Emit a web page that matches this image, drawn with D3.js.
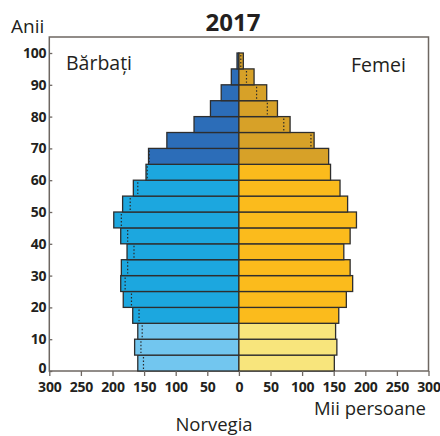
<!DOCTYPE html>
<html lang="ro">
<head>
<meta charset="UTF-8">
<title>Norvegia 2017</title>
<script src="https://cdn.jsdelivr.net/npm/d3@7"></script>
<style>
    body { margin: 0; background: #fff; }
    svg text { font-family: 'Open Sans', sans-serif; fill: #231f20; }
</style>
</head>
<body>
<script>
    // age groups (start of each 5-year band), values in thousands
    const ageStart = [0, 5, 10, 15, 20, 25, 30, 35, 40, 45, 50, 55, 60, 65, 70, 75, 80, 85, 90, 95];
    const male   = [160, 165, 160, 168, 183, 187, 186, 177, 187, 198, 184, 167, 147, 143, 114, 71, 45, 28, 12, 3];
    const female = [151, 155, 153, 158, 170, 180, 176, 166, 176, 186, 172, 160, 145, 142, 119, 81, 61, 44, 24, 7];
    const xTicks = [0, 50, 100, 150, 200, 250, 300];
    const yTicks = [0, 10, 20, 30, 40, 50, 60, 70, 80, 90, 100];

    const W = 440, H = 436;
    const plotL = 49.3, plotR = 428.5, plotT = 37, plotB = 371;
    const center = (plotL + plotR) / 2;

    const svg = d3.select("body").append("svg").attr("width", W).attr("height", H);

    const xm = d3.scaleLinear().domain([0, 300]).range([center, plotL]);
    const xf = d3.scaleLinear().domain([0, 300]).range([center, plotR]);
    const y = d3.scaleLinear().domain([0, 100]).range([plotB, 53]);

    const colM = a => a < 15 ? "#72c6ef" : a < 65 ? "#1ca7df" : "#2c6db8";
    const colF = a => a < 15 ? "#f8e57c" : a < 65 ? "#fbbb1c" : "#d7a128";

    const data = ageStart.map((a, i) => ({a, m: male[i], f: female[i]}));

    // frame
    svg.append("rect")
        .attr("x", plotL).attr("y", plotT)
        .attr("width", plotR - plotL).attr("height", plotB - plotT)
        .attr("fill", "#fff").attr("stroke", "#6e6762").attr("stroke-width", 1.5);

    // bars
    const g = svg.append("g");
    g.selectAll("rect.m").data(data).join("rect").attr("class", "m")
        .attr("x", d => xm(d.m)).attr("y", d => y(d.a + 5))
        .attr("width", d => center - xm(d.m)).attr("height", d => y(d.a) - y(d.a + 5))
        .attr("fill", d => colM(d.a)).attr("stroke", "#2e2e2e").attr("stroke-width", 1.3);
    g.selectAll("rect.f").data(data).join("rect").attr("class", "f")
        .attr("x", center).attr("y", d => y(d.a + 5))
        .attr("width", d => xf(d.f) - center).attr("height", d => y(d.a) - y(d.a + 5))
        .attr("fill", d => colF(d.a)).attr("stroke", "#2e2e2e").attr("stroke-width", 1.3);

    // dotted: the other sex mirrored where it is smaller
    g.selectAll("line.dm").data(data.filter(d => d.m > d.f)).join("line").attr("class", "dm")
        .attr("x1", d => xm(d.f)).attr("x2", d => xm(d.f))
        .attr("y1", d => y(d.a + 5) + 2).attr("y2", d => y(d.a) - 2)
        .attr("stroke", "#2a2a2a").attr("stroke-width", 1.2).attr("stroke-dasharray", "1.5,2");
    g.selectAll("line.df").data(data.filter(d => d.f > d.m)).join("line").attr("class", "df")
        .attr("x1", d => xf(d.m)).attr("x2", d => xf(d.m))
        .attr("y1", d => y(d.a + 5) + 2).attr("y2", d => y(d.a) - 2)
        .attr("stroke", "#2a2a2a").attr("stroke-width", 1.2).attr("stroke-dasharray", "1.5,2");

    // axes
    const styleAxis = sel => {
        sel.select(".domain").remove();
        sel.selectAll(".tick line").attr("stroke", "#6e6762").attr("stroke-width", 1.3);
        sel.selectAll(".tick text").attr("font-size", 14).attr("font-weight", 700)
            .attr("letter-spacing", -0.2)
            .attr("font-family", "'Open Sans', sans-serif").attr("fill", "#231f20");
    };
    svg.append("g").attr("transform", `translate(0,${plotB})`)
        .call(d3.axisBottom(xm).tickValues(xTicks.slice(1)).tickSize(5).tickPadding(6).tickFormat(d3.format("d")))
        .call(styleAxis);
    svg.append("g").attr("transform", `translate(0,${plotB})`)
        .call(d3.axisBottom(xf).tickValues(xTicks).tickSize(5).tickPadding(6).tickFormat(d3.format("d")))
        .call(styleAxis);
    const ya = svg.append("g").attr("transform", `translate(${plotL},0)`)
        .call(d3.axisLeft(y).tickValues(yTicks).tickSize(-3).tickPadding(3).tickFormat(d3.format("d")))
        .call(styleAxis);
    ya.selectAll(".tick").filter(d => d === 0).select("text").attr("dy", "0.1em");

    // labels
    svg.append("text").attr("x", 233).attr("y", 31).attr("text-anchor", "middle")
        .attr("font-size", 24).attr("font-weight", 700).text("2017");
    svg.append("text").attr("x", 11).attr("y", 33).attr("font-size", 19).text("Anii");
    svg.append("rect").attr("x", 58).attr("y", 53).attr("width", 88).attr("height", 25).attr("fill", "#fff");
    svg.append("text").attr("x", 66).attr("y", 70).attr("font-size", 19.5).text("Bărbaţi");
    svg.append("text").attr("x", 406).attr("y", 72).attr("text-anchor", "end").attr("font-size", 19.5).text("Femei");
    svg.append("text").attr("x", 426).attr("y", 415).attr("text-anchor", "end").attr("font-size", 18.5).text("Mii persoane");
    svg.append("text").attr("x", 214).attr("y", 431).attr("text-anchor", "middle").attr("font-size", 18.5).text("Norvegia");
</script>
</body>
</html>
